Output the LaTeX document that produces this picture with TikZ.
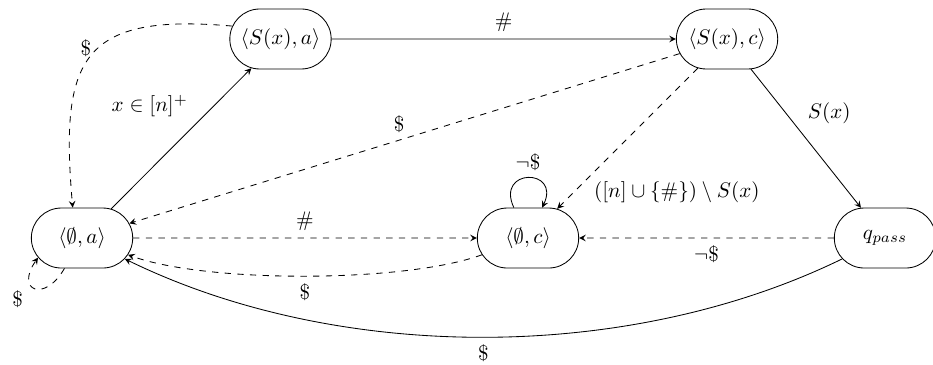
\documentclass[tikz,border=0pt]{standalone}
\usepackage{amsmath,amssymb}
\usetikzlibrary{shapes.misc}
\begin{document}
\begin{tikzpicture}[>=stealth,
  st/.style={draw,rounded rectangle,minimum width=1.83cm,minimum height=1cm,inner sep=2pt},
  dsh/.style={->,dashed}]
\useasboundingbox (0,0) rectangle (15.55,-6.083);
% states
\node[st] (Sa) at (4.675,-0.65) {$\langle S(x),a\rangle$};
\node[st] (Sc) at (12.117,-0.65) {$\langle S(x),c\rangle$};
\node[st] (Ea) at (1.367,-3.967) {$\langle\emptyset,a\rangle$};
\node[st] (Ec) at (8.8,-3.967) {$\langle\emptyset,c\rangle$};
\node[st] (qp) at (14.75,-3.967) {$q_{pass}$};
% solid transitions
\draw[->] (Ea) -- node[pos=.6,above left] {$x\in[n]^+$} (Sa);
\draw[->] (Sa) -- node[above] {$\#$} (Sc);
\draw[->] (Sc) -- node[pos=.45,above right] {$S(x)$} (qp);
\draw[->] (qp) to[bend left=26,looseness=.85] node[below] {\$} (Ea);
\draw[->] (Ec.115) to[out=115,in=65,min distance=7.3mm] node[above] {$\neg\$$} (Ec.65);
% dashed transitions
\draw[dsh] (Sa.165) to[out=175,in=95,looseness=1.6] node[pos=.45,left] {\$} (Ea.107);
\draw[dsh] (Sc) -- node[pos=.51,above] {\$} (Ea);
\draw[dsh] (Sc) -- node[pos=.88,right=6pt] {$([n]\cup\{\#\})\setminus S(x)$} (Ec);
\draw[dsh] (Ea) -- node[above] {$\#$} (Ec);
\draw[dsh] (Ec) to[bend left=20,looseness=.6] node[below] {\$} (Ea);
\draw[dsh] (qp) -- node[below] {$\neg\$$} (Ec);
\draw[dsh] (Ea.240) to[out=240,in=235,min distance=6.7mm] node[pos=.65,below left] {\$} (Ea.204);
\end{tikzpicture}
\end{document}
